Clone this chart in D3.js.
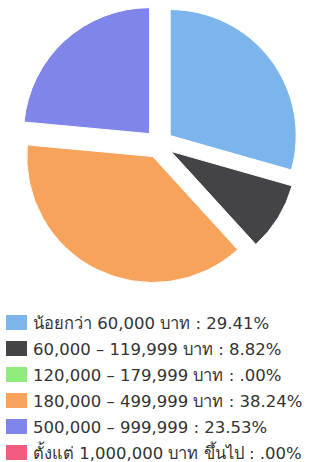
<!DOCTYPE html>
<html>
<head>
<meta charset="utf-8">
<script src="https://cdn.jsdelivr.net/npm/d3@7"></script>
<style>
  html, body { margin: 0; padding: 0; background: #fff; }
  svg { display: block; }
</style>
</head>
<body>
<div id="chart"></div>
<script>
// income ranges and their share (%)
const categories = [
  "น้อยกว่า 60,000 บาท",
  "60,000 – 119,999 บาท",
  "120,000 – 179,999 บาท",
  "180,000 – 499,999 บาท",
  "500,000 – 999,999",
  "ตั้งแต่ 1,000,000 บาท ขึ้นไป"
];
const values = [29.41, 8.82, 0, 38.24, 23.53, 0];
const percentLabels = ["29.41%", "8.82%", ".00%", "38.24%", "23.53%", ".00%"];
const colors = ["#7cb5ec", "#434348", "#90ed7d", "#f7a35c", "#8085e9", "#f15c80"];

const width = 312;
const height = 462;
const cx = 159, cy = 144;
const radius = 126;
const sliceOffset = 14;

const svg = d3.select("#chart")
  .append("svg")
  .attr("width", width)
  .attr("height", height);

const pie = d3.pie()
  .sort(null)
  .value(d => d);

const arc = d3.arc()
  .innerRadius(0)
  .outerRadius(radius);

const pieG = svg.append("g")
  .attr("transform", "translate(" + cx + "," + cy + ")");

pieG.selectAll("path")
  .data(pie(values).filter(d => d.value > 0))
  .enter()
  .append("path")
  .attr("d", arc)
  .attr("fill", d => colors[d.index])
  .attr("stroke", "#fff")
  .attr("stroke-width", 1)
  .attr("transform", d => {
    // every slice is pulled out along its middle angle
    const mid = (d.startAngle + d.endAngle) / 2;
    return "translate(" + (sliceOffset * Math.sin(mid)) + "," + (-sliceOffset * Math.cos(mid)) + ")";
  });

// legend
const rowY = d3.scaleLinear()
  .domain([0, categories.length - 1])
  .range([323, 453]);

const legend = svg.append("g");

const items = legend.selectAll("g.item")
  .data(categories)
  .enter()
  .append("g")
  .attr("class", "item")
  .attr("transform", (d, i) => "translate(0," + rowY(i) + ")");

items.append("rect")
  .attr("x", 6)
  .attr("y", -8)
  .attr("width", 21)
  .attr("height", 15)
  .attr("fill", (d, i) => colors[i]);

items.append("text")
  .attr("x", 33)
  .attr("dy", "0.35em")
  .attr("fill", "#333333")
  .style("font-family", "Tahoma, 'DejaVu Sans', sans-serif")
  .style("font-size", "16.5px")
  .text((d, i) => d + " : " + percentLabels[i]);
</script>
</body>
</html>
